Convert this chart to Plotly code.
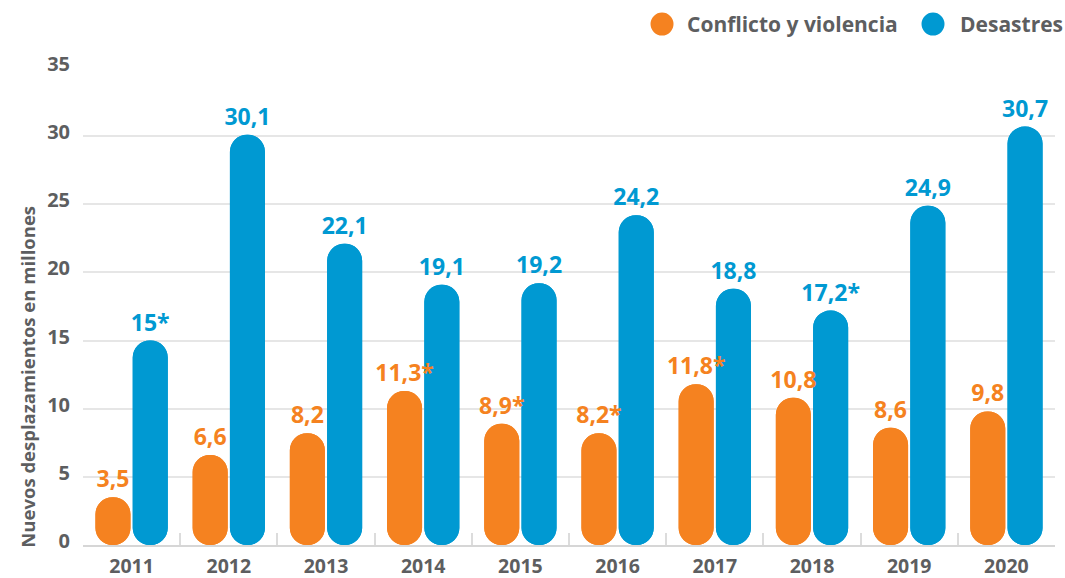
import plotly.graph_objects as go

years = ["2011", "2012", "2013", "2014", "2015", "2016", "2017", "2018", "2019", "2020"]
conflicto = [3.5, 6.6, 8.2, 11.3, 8.9, 8.2, 11.8, 10.8, 8.6, 9.8]
conflicto_labels = ["3,5", "6,6", "8,2", "11,3*", "8,9*", "8,2*", "11,8*", "10,8", "8,6", "9,8"]
desastres = [15, 30.1, 22.1, 19.1, 19.2, 24.2, 18.8, 17.2, 24.9, 30.7]
desastres_labels = ["15*", "30,1", "22,1", "19,1", "19,2", "24,2", "18,8", "17,2*", "24,9", "30,7"]

ORANGE = "#F58220"
BLUE = "#0099D2"
GREY = "#5d5e60"
FONT = "Open Sans"

fig = go.Figure()


def add_pill(name, values, color, group):
    # top-rounded bar from 0 up to value
    fig.add_trace(go.Bar(
        x=years, y=values, base=[0] * len(values), name=name, offsetgroup=group,
        marker=dict(color=color, line=dict(width=0), cornerradius="50%"),
        showlegend=False, hoverinfo="skip",
    ))
    # bottom-rounded bar from value down to 0
    fig.add_trace(go.Bar(
        x=years, y=[-v for v in values], base=values, name=name, offsetgroup=group,
        marker=dict(color=color, line=dict(width=0), cornerradius="50%"),
        showlegend=False, hoverinfo="skip",
    ))


def add_labels(name, values, labels, color, group):
    fig.add_trace(go.Bar(
        x=years, y=values, name=name, offsetgroup=group,
        marker=dict(color="rgba(0,0,0,0)", line=dict(width=0)),
        text=labels, textposition="outside", constraintext="none", cliponaxis=False,
        textfont=dict(family=FONT, size=23, color=color, weight="bold"),
        showlegend=False, hoverinfo="skip",
    ))


add_pill("Conflicto y violencia", conflicto, ORANGE, "c")
add_pill("Desastres", desastres, BLUE, "d")
add_labels("Conflicto y violencia", conflicto, conflicto_labels, ORANGE, "c")
add_labels("Desastres", desastres, desastres_labels, BLUE, "d")

shapes = []
annotations = []
legend_items = [("Conflicto y violencia", ORANGE, 0.5957, 0.6193),
                ("Desastres", BLUE, 0.8745, 0.9002)]
for label, color, cx, tx in legend_items:
    shapes.append(dict(type="circle", xref="paper", yref="paper",
                       xsizemode="pixel", ysizemode="pixel",
                       xanchor=cx, yanchor=1.0922,
                       x0=-11.5, x1=11.5, y0=-11.5, y1=11.5,
                       fillcolor=color, line=dict(width=0)))
    annotations.append(dict(text=label, xref="paper", yref="paper", x=tx, y=1.0922,
                            xanchor="left", yanchor="middle", showarrow=False,
                            font=dict(family=FONT, size=21, color=GREY, weight="bold")))

annotations.append(dict(text="Nuevos desplazamientos en millones", xref="paper", yref="paper",
                        x=-0.058, y=0.352, xanchor="center", yanchor="middle",
                        textangle=-90, showarrow=False,
                        font=dict(family=FONT, size=18.5, color=GREY, weight="bold")))

fig.update_layout(
    width=1065, height=578,
    margin=dict(l=83, r=10, t=68, b=33),
    paper_bgcolor="white", plot_bgcolor="white",
    barmode="group", bargap=0.233, bargroupgap=0.06,
    showlegend=False,
    shapes=shapes, annotations=annotations,
    font=dict(family=FONT, color=GREY),
    xaxis=dict(
        automargin=False,
        showgrid=False, showline=True, linecolor="#d6d6d6", linewidth=2,
        ticks="inside", tickson="boundaries", ticklen=12, tickcolor="#dcdcdc", tickwidth=1.5,
        tickfont=dict(family=FONT, size=19.5, color=GREY, weight="bold"),
        ticklabelstandoff=3,
    ),
    yaxis=dict(
        automargin=False,
        range=[0, 35], tickvals=[0, 5, 10, 15, 20, 25, 30, 35],
        showgrid=True, gridcolor="#e6e6e6", gridwidth=1.5, zeroline=False,
        showline=False, ticks="",
        tickfont=dict(family=FONT, size=20, color=GREY, weight="bold"),
        ticklabelstandoff=12, ticklabelshift=-4,
    ),
)

fig.write_html("out.html", config={"displayModeBar": False},
               post_script="document.body.style.margin='0';document.body.style.overflow='hidden';")
